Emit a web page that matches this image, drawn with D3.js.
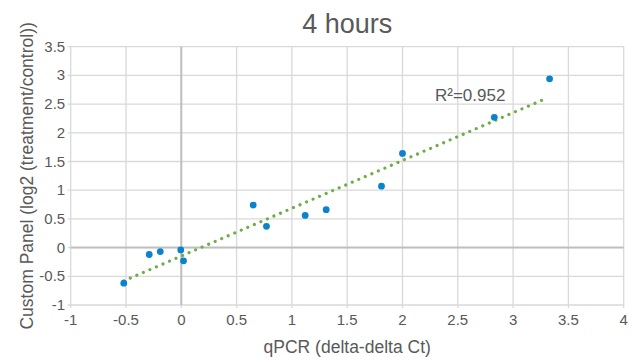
<!DOCTYPE html>
<html>
<head>
<meta charset="utf-8">
<script src="https://d3js.org/d3.v7.min.js"></script>
<style>
    body { margin: 0; background: #fff; }
    text { font-family: "Liberation Sans", Arial, sans-serif; fill: #595959; }
</style>
<title>4 hours</title>
</head>
<body>
<script>
    // data
    var qpcr  = [-0.52, -0.29, -0.19, -0.005, 0.02, 0.65, 0.77, 1.12, 1.31, 1.81, 2.00, 2.83, 3.33];
    var panel = [-0.62, -0.12, -0.07, -0.04, -0.23, 0.74, 0.37, 0.56, 0.66, 1.07, 1.64, 2.27, 2.94];
    // trendline ends (x, y) as drawn
    var trendX = [-0.52, 3.30];
    var trendY = [-0.58, 2.60];
    var xTicks = [-1, -0.5, 0, 0.5, 1, 1.5, 2, 2.5, 3, 3.5, 4];
    var yTicks = [-1, -0.5, 0, 0.5, 1, 1.5, 2, 2.5, 3, 3.5];

    var width = 634, height = 362;
    var margin = { top: 46.7, right: 10.3, bottom: 57, left: 70.7 };

    var svg = d3.select("body").append("svg")
        .attr("width", width)
        .attr("height", height);

    var x = d3.scaleLinear().domain([-1, 4]).range([margin.left, width - margin.right]);
    var y = d3.scaleLinear().domain([-1, 3.5]).range([height - margin.bottom, margin.top]);

    // gridlines
    var grid = svg.append("g");
    grid.selectAll(".vg").data(xTicks).enter().append("line")
        .attr("x1", d => x(d)).attr("x2", d => x(d))
        .attr("y1", y(3.5)).attr("y2", y(-1) + 3)
        .attr("stroke", "#d9d9d9").attr("stroke-width", 1.3);
    grid.selectAll(".hg").data(yTicks).enter().append("line")
        .attr("x1", x(-1) - 3).attr("x2", x(4))
        .attr("y1", d => y(d)).attr("y2", d => y(d))
        .attr("stroke", "#d9d9d9").attr("stroke-width", 1.3);

    // zero axes
    svg.append("line")
        .attr("x1", x(0)).attr("x2", x(0)).attr("y1", y(3.5)).attr("y2", y(-1))
        .attr("stroke", "#bfbfbf").attr("stroke-width", 2);
    svg.append("line")
        .attr("x1", x(-1)).attr("x2", x(4)).attr("y1", y(0)).attr("y2", y(0))
        .attr("stroke", "#bfbfbf").attr("stroke-width", 2);

    // tick labels
    svg.append("g").selectAll("text").data(xTicks).enter().append("text")
        .attr("x", d => x(d)).attr("y", y(-1) + 20)
        .attr("text-anchor", "middle").attr("font-size", 15)
        .text(d => d);
    svg.append("g").selectAll("text").data(yTicks).enter().append("text")
        .attr("x", x(-1) - 5.5).attr("y", d => y(d) + 5)
        .attr("text-anchor", "end").attr("font-size", 15)
        .text(d => d);

    // trendline (dotted)
    var line = d3.line().x(d => x(d[0])).y(d => y(d[1]));
    svg.append("path")
        .datum(d3.zip(trendX, trendY))
        .attr("d", line)
        .attr("fill", "none")
        .attr("stroke", "#70ad47")
        .attr("stroke-width", 3.2)
        .attr("stroke-linecap", "round")
        .attr("stroke-dasharray", "0.01 7.1");

    // points
    svg.append("g").selectAll("circle").data(d3.zip(qpcr, panel)).enter().append("circle")
        .attr("cx", d => x(d[0])).attr("cy", d => y(d[1]))
        .attr("r", 3.4)
        .attr("fill", "#0b83cc");

    // labels
    svg.append("text")
        .attr("x", (x(-1) + x(4)) / 2).attr("y", 33)
        .attr("text-anchor", "middle").attr("font-size", 27)
        .text("4 hours");
    svg.append("text")
        .attr("x", (x(-1) + x(4)) / 2).attr("y", 353)
        .attr("text-anchor", "middle").attr("font-size", 17.5)
        .text("qPCR (delta-delta Ct)");
    svg.append("text")
        .attr("transform", "translate(33," + ((y(-1) + y(3.5)) / 2) + ") rotate(-90)")
        .attr("text-anchor", "middle").attr("font-size", 17.5)
        .text("Custom Panel (log2 (treatment/control))");
    svg.append("text")
        .attr("x", 435).attr("y", 101)
        .attr("font-size", 17)
        .text("R\u00b2=0.952");
</script>
</body>
</html>
